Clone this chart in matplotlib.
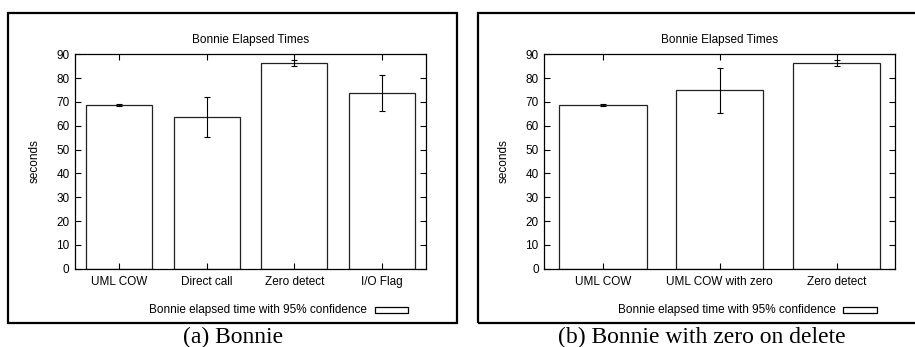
import matplotlib
matplotlib.use("Agg")
import matplotlib.pyplot as plt
from matplotlib.patches import Rectangle

plt.rcParams.update({"font.family": ["Liberation Sans", "DejaVu Sans"], "font.size": 8.5})

# ---------- data ----------
cats_a = ["UML COW", "Direct call", "Zero detect", "I/O Flag"]
vals_a = [68.6, 63.6, 86.4, 73.9]
lo_a = [68.2, 55.3, 85.2, 66.3]
hi_a = [69.0, 72.0, 87.6, 81.2]

cats_b = ["UML COW", "UML COW with zero", "Zero detect"]
vals_b = [68.6, 74.9, 86.4]
lo_b = [68.2, 65.2, 85.2]
hi_b = [69.0, 84.3, 87.6]

yticks = [0, 10, 20, 30, 40, 50, 60, 70, 80, 90]
title = "Bonnie Elapsed Times"
legend_label = "Bonnie elapsed time with 95% confidence"
captions = ["(a) Bonnie", "(b) Bonnie with zero on delete"]

W, H = 915, 347
fig = plt.figure(figsize=(W / 100, H / 100), dpi=100)


def px(x0, y0, x1, y1):
    # pixel box (top-left origin) -> figure fraction rect
    return [x0 / W, 1 - y1 / H, (x1 - x0) / W, (y1 - y0) / H]


def panel(rect, cats, vals, lo, hi, frame, ylab_x, leg_x, leg_box, caption_x, caption):
    ax = fig.add_axes(px(*rect))
    x = range(len(cats))
    err = [[v - l for v, l in zip(vals, lo)], [h - v for v, h in zip(vals, hi)]]
    ax.bar(x, vals, width=0.75, color="white", edgecolor="#222222", linewidth=0.9,
           label=legend_label)
    ax.errorbar(x, vals, yerr=err, fmt="none", ecolor="black", elinewidth=0.8,
                capsize=2.5, capthick=0.8)
    ax.set_xlim(-0.5, len(cats) - 0.5)
    ax.set_ylim(0, 90)
    ax.set_yticks(yticks)
    ax.set_xticks(list(x))
    ax.set_xticklabels(cats)
    ax.tick_params(direction="in", length=4, width=0.8, top=True, right=True,
                   labelsize=8.5, pad=5)
    ax.tick_params(axis="y", pad=4)
    for s in ax.spines.values():
        s.set_linewidth(0.9)
    ax.set_title(title, fontsize=8.5, pad=8)
    fig.text(ylab_x / W, 1 - ((rect[1] + rect[3]) / 2) / H, "seconds", rotation=90,
             ha="center", va="center", fontsize=8.5)
    # legend: text + sample box at bottom right
    fig.text(leg_x / W, 1 - 310 / H, legend_label, ha="right", va="center", fontsize=8.5)
    bx0, bx1 = leg_box
    fig.patches.append(Rectangle((bx0 / W, 1 - 313 / H), (bx1 - bx0) / W, 6 / H,
                                 transform=fig.transFigure, facecolor="white",
                                 edgecolor="black", linewidth=0.9))
    # frame around panel
    fx0, fy0, fx1, fy1 = frame
    fig.patches.append(Rectangle((fx0 / W, 1 - fy1 / H), (fx1 - fx0) / W, (fy1 - fy0) / H,
                                 transform=fig.transFigure, fill=False,
                                 edgecolor="black", linewidth=1.6))
    fig.text(caption_x / W, 1 - 337 / H, caption, ha="center", va="center",
             fontsize=17, family=["Liberation Serif", "DejaVu Serif"])


panel((75, 54.3, 426, 268.7), cats_a, vals_a, lo_a, hi_a,
      (8, 12.5, 457, 323.3), 35, 367, (375, 408), 233, captions[0])
panel((544.3, 54.3, 895, 268.7), cats_b, vals_b, lo_b, hi_b,
      (477.5, 12.5, 918, 323.3), 504, 836, (843, 877), 702, captions[1])

fig.savefig("out.png", dpi=100)
